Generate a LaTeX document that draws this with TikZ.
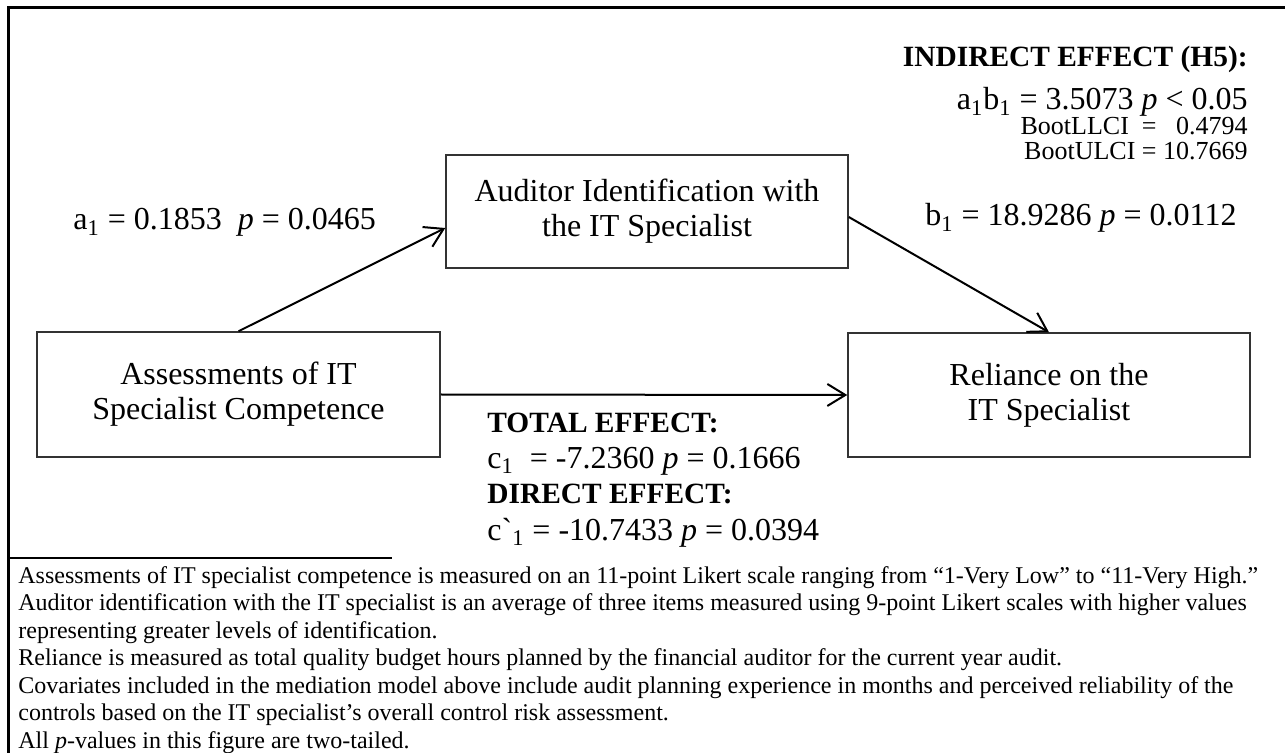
\documentclass[tikz,border=0pt]{standalone}
\usepackage{fontspec}
\setmainfont{Liberation Serif}
\usetikzlibrary{arrows.meta}
\newcommand\boxfont{\fontsize{16pt}{17.5pt}\selectfont}
\newcommand\headfont{\fontsize{14.7pt}{16pt}\selectfont\bfseries}
\newcommand\cifont{\fontsize{13pt}{13pt}\selectfont}
\newcommand\notefont{\fontsize{12pt}{13.75pt}\selectfont}
\begin{document}
\begin{tikzpicture}
[x=0.5pt,y=-0.5pt,
every node/.style={inner sep=0pt},
varbox/.style={draw=black!80,line width=0.75pt,align=center,font=\boxfont,minimum width=201pt,minimum height=62.5pt},
effect/.style={-{Straight Barb[length=9pt,width=11pt]},line width=1pt},
coef/.style={font=\boxfont,anchor=base west},
head/.style={font=\headfont,anchor=base west},
ci/.style={font=\cifont,anchor=base east}]
\useasboundingbox (0,0) rectangle (1285,753);
\draw[line width=1.5pt] (8,753) -- (8,8) -- (1285,8);
% the three variables
\node[varbox,minimum width=201.5pt] (comp) at (238.5,394.5) {Assessments of IT\\Specialist Competence};
\node[varbox,minimum height=56.5pt] (ident) at (647,211.5) {Auditor Identification with\\the IT Specialist};
\node[varbox,minimum height=62pt] (rel) at (1049,395) {Reliance on the\\IT Specialist};
% paths
\draw[effect] (comp.north) -- ([yshift=-8.25pt]ident.west);
\draw[effect] ([yshift=-2.75pt]ident.east) -- (rel.north);
\draw[effect] (comp.east) -- (rel.west);
% coefficients
\node[coef] (acoef) at (73,230) {a\textsubscript{1} = 0.1853~ \textit{p} = 0.0465};
\node[coef] (bcoef) at (925,226) {b\textsubscript{1} = 18.9286 \textit{p} = 0.0112};
\node[head,anchor=base east] (indhead) at (1248,67) {INDIRECT EFFECT (H5):};
\node[coef,anchor=base east] (abcoef) at (1248,110) {a\textsubscript{1}b\textsubscript{1} = 3.5073 \textit{p} < 0.05};
\node[ci] (llci) at (1248,135) {BootLLCI ~=~~ 0.4794};
\node[ci] (ulci) at (1248,160) {BootULCI = 10.7669};
\node[head] (tothead) at (487,433) {TOTAL EFFECT:};
\node[coef] (ccoef) at (487,468) {c\textsubscript{1}~ = -7.2360 \textit{p} = 0.1666};
\node[head] (dirhead) at (487,503) {DIRECT EFFECT:};
\node[coef] (cpcoef) at (487,540) {c\textasciigrave\textsubscript{1} = -10.7433 \textit{p} = 0.0394};
% notes
\draw[line width=0.6pt] (8,558) -- (392,558);
\foreach \txt [count=\i from 0] in {%
{Assessments of IT specialist competence is measured on an 11-point Likert scale ranging from “1-Very Low” to “11-Very High.”},
{Auditor identification with the IT specialist is an average of three items measured using 9-point Likert scales with higher values},
{representing greater levels of identification.},
{Reliance is measured as total quality budget hours planned by the financial auditor for the current year audit.},
{Covariates included in the mediation model above include audit planning experience in months and perceived reliability of the},
{controls based on the IT specialist’s overall control risk assessment.},
{All \textit{p}-values in this figure are two-tailed.}}
  \node[font=\notefont,anchor=base west] (note\i) at (18,583+27.5*\i) {\txt};
\end{tikzpicture}
\end{document}
